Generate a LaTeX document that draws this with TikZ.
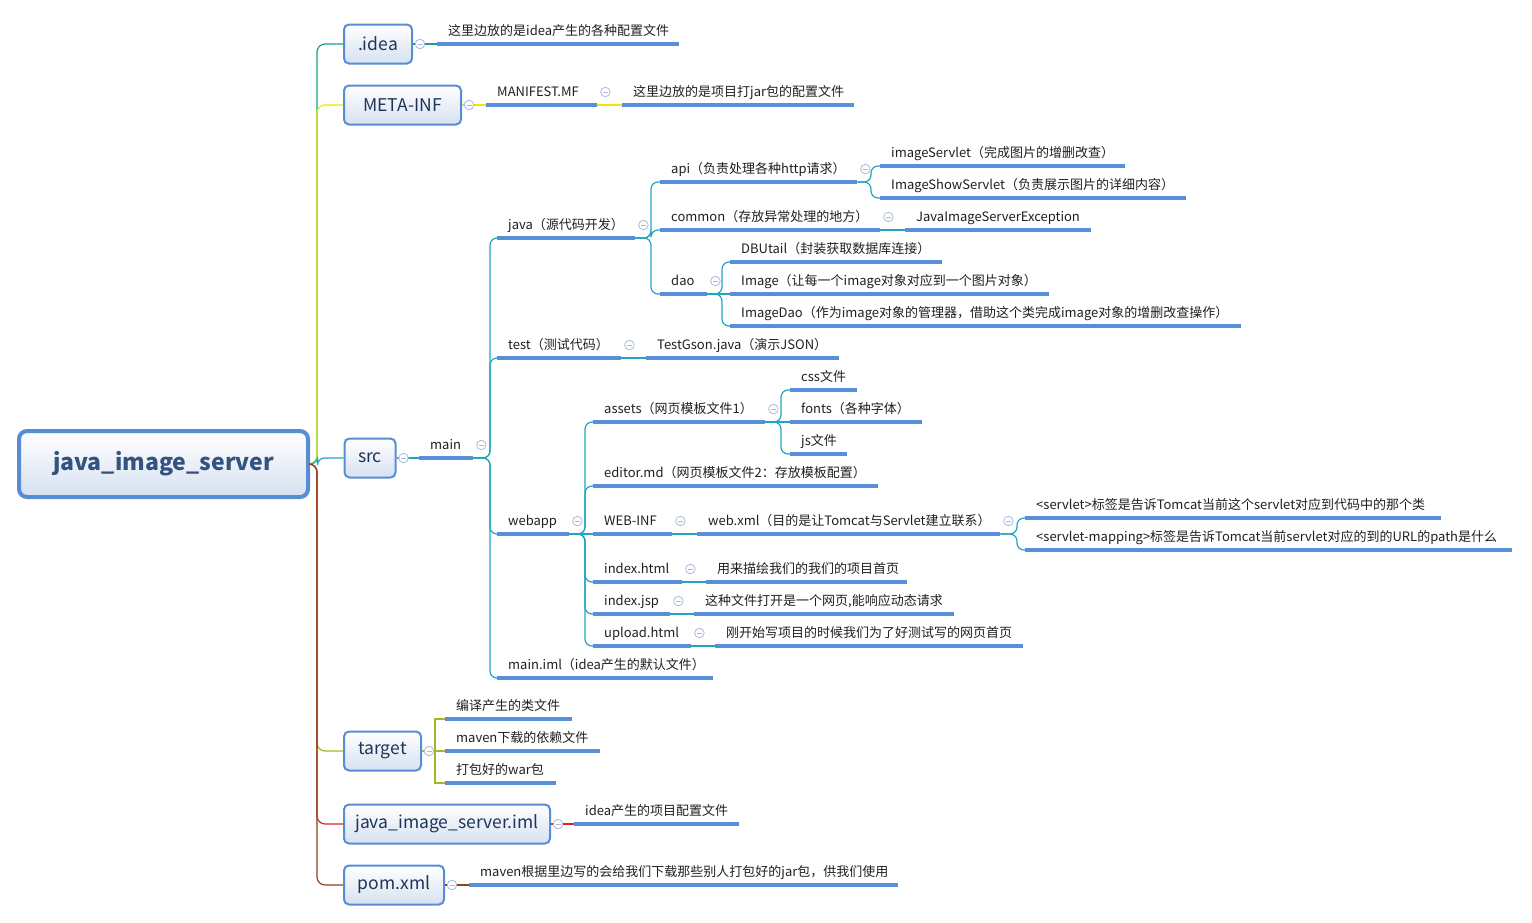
\documentclass[tikz,border=0pt]{standalone}
\usepackage{fontspec}
\setmainfont{Noto Sans CJK SC}
\usepackage{tikz}

\definecolor{nodeblue}{RGB}{88,141,212}
\definecolor{fillblue}{RGB}{214,225,241}
\definecolor{lineblue}{RGB}{90,142,214}
\definecolor{foldgray}{RGB}{168,184,224}
\definecolor{boxtext}{RGB}{30,52,88}
\definecolor{roottext}{RGB}{52,82,128}
\definecolor{cidea}{RGB}{22,160,133}
\definecolor{cmeta}{RGB}{232,232,0}
\definecolor{csrc}{RGB}{30,166,190}
\definecolor{ctarget}{RGB}{160,184,40}
\definecolor{ciml}{RGB}{222,36,30}
\definecolor{cpom}{RGB}{140,68,24}

\begin{document}
\begin{tikzpicture}[x=1pt, y=-1pt,
  rootbox/.style={draw=nodeblue, line width=4pt, rounded corners=8pt, top color=white, bottom color=fillblue,
    minimum width=289pt, minimum height=66pt, font=\fontsize{23}{28}\selectfont\bfseries, text=roottext},
  box/.style={draw=nodeblue, line width=2pt, rounded corners=5pt, top color=white, bottom color=fillblue,
    minimum height=39pt, font=\fontsize{17.5}{22}\selectfont, text=boxtext},
  uline/.style={draw=lineblue, line width=3.4pt},
  topic/.style={anchor=south west, align=left, inner xsep=11pt, inner ysep=4pt, text height=10pt, text depth=4pt,
    font=\fontsize{13}{16}\selectfont, text=black!88,
    append after command={(\tikzlastnode.south west) edge[uline] (\tikzlastnode.south east)}},
  fold/.style={circle, draw=foldgray, fill=white, line width=0.8pt, minimum size=9.5pt, inner sep=0pt,
    path picture={\draw[foldgray, line width=0.8pt] ([xshift=-2.5pt]path picture bounding box.center) -- ([xshift=2.5pt]path picture bounding box.center);}},
  lidea/.style={draw=cidea, line width=1.2pt, rounded corners=8pt},
  lmeta/.style={draw=cmeta, line width=1.2pt, rounded corners=8pt},
  lsrc/.style={draw=csrc, line width=1.2pt, rounded corners=7pt},
  ltarget/.style={draw=ctarget, line width=1.2pt},
  liml/.style={draw=ciml, line width=1.2pt, rounded corners=8pt},
  lpom/.style={draw=cpom, line width=1.2pt, rounded corners=8pt}]
  \useasboundingbox (0,0) rectangle (1532,922);

  % Define nodes
  \node[rootbox] (root) at (163.5, 464) {java\_image\_server};
  \node[box, minimum width=68pt] (idea) at (378, 44) {.idea};
  \node[box, minimum width=117pt] (meta) at (402.5, 105) {META-INF};
  \node[box, minimum width=51pt] (src) at (370, 458) {src};
  \node[box, minimum width=77pt] (target) at (382.5, 751) {target};
  \node[box, minimum width=206pt] (iml) at (447, 824) {java\_image\_server.iml};
  \node[box, minimum width=100pt] (pom) at (394, 885) {pom.xml};

  \node[topic, text width=220pt] (ideanote) at (437, 44) {这里边放的是idea产生的各种配置文件};
  \node[topic, text width=89pt] (manifest) at (486, 105) {MANIFEST.MF};
  \node[topic, text width=210pt] (mfnote) at (622, 105) {这里边放的是项目打jar包的配置文件};

  \node[topic, text width=32pt] (main) at (419, 458) {main};
  \node[topic, text width=116pt] (java) at (497, 238) {java（源代码开发）};
  \node[topic, text width=102pt] (test) at (497, 358) {test（测试代码）};
  \node[topic, text width=50pt] (webapp) at (497, 534) {webapp};
  \node[topic, text width=194pt] (mainiml) at (497, 678) {main.iml（idea产生的默认文件）};

  \node[topic, text width=175pt] (api) at (660, 182) {api（负责处理各种http请求）};
  \node[topic, text width=198pt] (common) at (660, 230) {common（存放异常处理的地方）};
  \node[topic, text width=25pt] (dao) at (660, 294) {dao};
  \node[topic, text width=223pt] (imgservlet) at (880, 166) {imageServlet（完成图片的增删改查）};
  \node[topic, text width=284pt] (showservlet) at (880, 198) {ImageShowServlet（负责展示图片的详细内容）};
  \node[topic, text width=164pt] (exception) at (905, 230) {JavaImageServerException};
  \node[topic, text width=190pt] (dbutil) at (730, 262) {DBUtail（封装获取数据库连接）};
  \node[topic, text width=297pt] (image) at (730, 294) {Image（让每一个image对象对应到一个图片对象）};
  \node[topic, text width=489pt] (imagedao) at (730, 326) {ImageDao（作为image对象的管理器，借助这个类完成image对象的增删改查操作）};
  \node[topic, text width=171pt] (testgson) at (646, 358) {TestGson.java（演示JSON）};

  \node[topic, text width=150pt] (assets) at (593, 422) {assets（网页模板文件1）};
  \node[topic, text width=263pt] (editor) at (593, 486) {editor.md（网页模板文件2：存放模板配置）};
  \node[topic, text width=57pt] (webinf) at (593, 534) {WEB-INF};
  \node[topic, text width=67pt] (indexhtml) at (593, 582) {index.html};
  \node[topic, text width=55pt] (indexjsp) at (593, 614) {index.jsp};
  \node[topic, text width=76pt] (upload) at (593, 646) {upload.html};
  \node[topic, text width=45pt] (css) at (790, 390) {css文件};
  \node[topic, text width=110pt] (fonts) at (790, 422) {fonts（各种字体）};
  \node[topic, text width=35pt] (js) at (790, 454) {js文件};
  \node[topic, text width=281pt] (webxml) at (697, 534) {web.xml（目的是让Tomcat与Servlet建立联系）};
  \node[topic, text width=394pt] (servlet) at (1025, 518) {<servlet>标签是告诉Tomcat当前这个servlet对应到代码中的那个类};
  \node[topic, text width=465pt] (mapping) at (1025, 550) {<servlet-mapping>标签是告诉Tomcat当前servlet对应的到的URL的path是什么};
  \node[topic, text width=179pt] (htmlnote) at (706, 582) {用来描绘我们的我们的项目首页};
  \node[topic, text width=238pt] (jspnote) at (694, 614) {这种文件打开是一个网页,能响应动态请求};
  \node[topic, text width=286pt] (uploadnote) at (715, 646) {刚开始写项目的时候我们为了好测试写的网页首页};

  \node[topic, text width=105pt] (classes) at (445, 719) {编译产生的类文件};
  \node[topic, text width=133pt] (deps) at (445, 751) {maven下载的依赖文件};
  \node[topic, text width=89pt] (war) at (445, 783) {打包好的war包};
  \node[topic, text width=143pt] (imlnote) at (574, 824) {idea产生的项目配置文件};
  \node[topic, text width=407pt] (pomnote) at (469, 885) {maven根据里边写的会给我们下载那些别人打包好的jar包，供我们使用};

  % Define edges from the root
  \draw[lidea] (root.east) -| ([xshift=-26pt]idea.west) -- (idea.west);
  \draw[lmeta] (root.east) -| ([xshift=-26pt]meta.west) -- (meta.west);
  \draw[lsrc] (root.east) -| ([xshift=-26pt]src.west) -- (src.west);
  \draw[ltarget, rounded corners=8pt] (root.east) -| ([xshift=-26pt]target.west) -- (target.west);
  \draw[liml] (root.east) -| ([xshift=-26pt]iml.west) -- (iml.west);
  \draw[lpom] (root.east) -| ([xshift=-26pt]pom.west) -- (pom.west);

  % .idea and META-INF
  \draw[lidea] (idea.east) -- (ideanote.south west);
  \draw[lmeta] (meta.east) -- (manifest.south west);
  \draw[lmeta] (manifest.south east) -- (mfnote.south west);

  % src
  \draw[lsrc] (src.east) -- (main.south west);
  \draw[lsrc] (main.south east) -| ([xshift=-7pt]java.south west) -- (java.south west);
  \draw[lsrc] (main.south east) -| ([xshift=-7pt]test.south west) -- (test.south west);
  \draw[lsrc] (main.south east) -| ([xshift=-7pt]webapp.south west) -- (webapp.south west);
  \draw[lsrc] (main.south east) -| ([xshift=-7pt]mainiml.south west) -- (mainiml.south west);
  \draw[lsrc] (java.south east) -| ([xshift=-9pt]api.south west) -- (api.south west);
  \draw[lsrc] (java.south east) -| ([xshift=-9pt]common.south west) -- (common.south west);
  \draw[lsrc] (java.south east) -| ([xshift=-9pt]dao.south west) -- (dao.south west);
  \draw[lsrc] (api.south east) -| ([xshift=-9pt]imgservlet.south west) -- (imgservlet.south west);
  \draw[lsrc] (api.south east) -| ([xshift=-9pt]showservlet.south west) -- (showservlet.south west);
  \draw[lsrc] (common.south east) -- (exception.south west);
  \draw[lsrc] (dao.south east) -| ([xshift=-8pt]dbutil.south west) -- (dbutil.south west);
  \draw[lsrc] (dao.south east) -- (image.south west);
  \draw[lsrc] (dao.south east) -| ([xshift=-8pt]imagedao.south west) -- (imagedao.south west);
  \draw[lsrc] (test.south east) -- (testgson.south west);
  \draw[lsrc] (webapp.south east) -| ([xshift=-8pt]assets.south west) -- (assets.south west);
  \draw[lsrc] (webapp.south east) -| ([xshift=-8pt]editor.south west) -- (editor.south west);
  \draw[lsrc] (webapp.south east) -- (webinf.south west);
  \draw[lsrc] (webapp.south east) -| ([xshift=-8pt]indexhtml.south west) -- (indexhtml.south west);
  \draw[lsrc] (webapp.south east) -| ([xshift=-8pt]indexjsp.south west) -- (indexjsp.south west);
  \draw[lsrc] (webapp.south east) -| ([xshift=-8pt]upload.south west) -- (upload.south west);
  \draw[lsrc] (assets.south east) -| ([xshift=-9pt]css.south west) -- (css.south west);
  \draw[lsrc] (assets.south east) -- (fonts.south west);
  \draw[lsrc] (assets.south east) -| ([xshift=-9pt]js.south west) -- (js.south west);
  \draw[lsrc] (webinf.south east) -- (webxml.south west);
  \draw[lsrc] (webxml.south east) -| ([xshift=-8pt]servlet.south west) -- (servlet.south west);
  \draw[lsrc] (webxml.south east) -| ([xshift=-8pt]mapping.south west) -- (mapping.south west);
  \draw[lsrc] (indexhtml.south east) -- (htmlnote.south west);
  \draw[lsrc] (indexjsp.south east) -- (jspnote.south west);
  \draw[lsrc] (upload.south east) -- (uploadnote.south west);

  % target, iml and pom
  \draw[ltarget] (target.east) -| ([xshift=-10pt]classes.south west) -- (classes.south west);
  \draw[ltarget] (target.east) -- (deps.south west);
  \draw[ltarget] (target.east) -| ([xshift=-10pt]war.south west) -- (war.south west);
  \draw[liml] (iml.east) -- (imlnote.south west);
  \draw[lpom] (pom.east) -- (pomnote.south west);

  % fold markers
  \node[fold] (fidea) at ([xshift=7pt]idea.east) {};
  \node[fold] (fmeta) at ([xshift=7pt]meta.east) {};
  \node[fold] (fsrc) at ([xshift=7pt]src.east) {};
  \node[fold] (ftarget) at ([xshift=7pt]target.east) {};
  \node[fold] (fiml) at ([xshift=7pt]iml.east) {};
  \node[fold] (fpom) at ([xshift=7pt]pom.east) {};
  \node[fold] (fmanifest) at ([shift={(8pt,13pt)}]manifest.south east) {};
  \node[fold] (fmain) at ([shift={(8pt,13pt)}]main.south east) {};
  \node[fold] (fjava) at ([shift={(8pt,13pt)}]java.south east) {};
  \node[fold] (ftest) at ([shift={(8pt,13pt)}]test.south east) {};
  \node[fold] (fwebapp) at ([shift={(8pt,13pt)}]webapp.south east) {};
  \node[fold] (fapi) at ([shift={(8pt,13pt)}]api.south east) {};
  \node[fold] (fcommon) at ([shift={(8pt,13pt)}]common.south east) {};
  \node[fold] (fdao) at ([shift={(8pt,13pt)}]dao.south east) {};
  \node[fold] (fassets) at ([shift={(8pt,13pt)}]assets.south east) {};
  \node[fold] (fwebinf) at ([shift={(8pt,13pt)}]webinf.south east) {};
  \node[fold] (fwebxml) at ([shift={(8pt,13pt)}]webxml.south east) {};
  \node[fold] (findexhtml) at ([shift={(8pt,13pt)}]indexhtml.south east) {};
  \node[fold] (findexjsp) at ([shift={(8pt,13pt)}]indexjsp.south east) {};
  \node[fold] (fupload) at ([shift={(8pt,13pt)}]upload.south east) {};
\end{tikzpicture}
\end{document}
